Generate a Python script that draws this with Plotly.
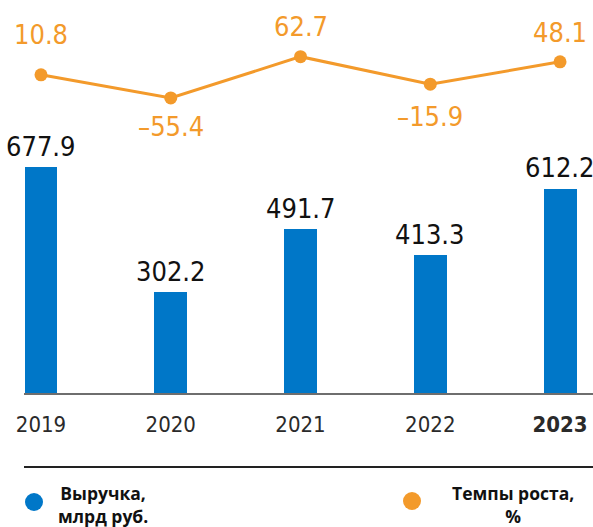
import plotly.graph_objects as go

years = ["2019", "2020", "2021", "2022", "2023"]
tick_labels = ["2019", "2020", "2021", "2022", "<b>2023</b>"]
revenue = [677.9, 302.2, 491.7, 413.3, 612.2]
growth = [10.8, -55.4, 62.7, -15.9, 48.1]
growth_labels = ["10.8", "\u201355.4", "62.7", "\u201315.9", "48.1"]
legend_names = ["Выручка,<br>млрд руб.", "Темпы роста,<br>%"]

BLUE = "#0077C8"
ORANGE = "#F39A2B"
FONT = "Liberation Sans Narrow, DejaVu Sans Condensed, Roboto, sans-serif"
LFONT = "Open Sans, DejaVu Sans, sans-serif"
W, H = 593, 527

def px(x):
    return x / W

def py(y):
    return 1 - y / H

# label offsets (px) for growth labels: positive = above
growth_offsets = [40, -29, 30, -32, 29]

fig = go.Figure()
fig.add_trace(go.Bar(x=years, y=revenue, marker=dict(color=BLUE, line=dict(width=0)),
                     width=0.254, yaxis="y", showlegend=False, hoverinfo="skip"))
fig.add_trace(go.Scatter(x=years, y=growth, mode="lines+markers", yaxis="y2",
                         line=dict(color=ORANGE, width=3),
                         marker=dict(color=ORANGE, size=13), showlegend=False,
                         hoverinfo="skip"))

annotations = []
for i, v in enumerate(revenue):
    annotations.append(dict(x=i, y=v, xref="x", yref="y", text=f"{v:.1f}",
                            showarrow=False, yanchor="middle", yshift=21,
                            font=dict(family=FONT, size=27, color="#111111")))
for i, (v, t, off) in enumerate(zip(growth, growth_labels, growth_offsets)):
    annotations.append(dict(x=i, y=v, xref="x", yref="y2", text=t,
                            showarrow=False, yanchor="middle", yshift=off,
                            font=dict(family=FONT, size=27, color=ORANGE)))

# legend texts
annotations.append(dict(x=px(103), y=py(504), xref="paper", yref="paper",
                        text="<b>" + legend_names[0] + "</b>", showarrow=False,
                        align="center", xanchor="center", yanchor="middle",
                        font=dict(family=LFONT, size=17.5, color="#111111")))
annotations.append(dict(x=px(513), y=py(504), xref="paper", yref="paper",
                        text="<b>" + legend_names[1] + "</b>", showarrow=False,
                        align="center", xanchor="center", yanchor="middle",
                        font=dict(family=LFONT, size=17.5, color="#111111")))

shapes = [
    dict(type="line", xref="paper", yref="paper", x0=px(24), x1=px(593),
         y0=py(467), y1=py(467), line=dict(color="#222222", width=2)),
    dict(type="circle", xref="paper", yref="paper", xsizemode="pixel", ysizemode="pixel",
         xanchor=px(34), yanchor=py(502), x0=-9, x1=9, y0=-9, y1=9,
         fillcolor=BLUE, line=dict(width=0)),
    dict(type="circle", xref="paper", yref="paper", xsizemode="pixel", ysizemode="pixel",
         xanchor=px(412), yanchor=py(501), x0=-9, x1=9, y0=-9, y1=9,
         fillcolor=ORANGE, line=dict(width=0)),
]

# axis geometry
base_px = 393
bar_top_max_px = 167
y_max = revenue[0] * base_px / (base_px - bar_top_max_px)
k2 = 0.3497  # px per % unit
zero2 = 78.6
y2_top = zero2 / k2
y2_bot = y2_top - base_px / k2

fig.update_layout(
    width=W, height=H,
    margin=dict(l=0, r=0, t=0, b=0),
    paper_bgcolor="white", plot_bgcolor="white",
    xaxis=dict(domain=[px(24), 1], type="category", range=[-0.131, 4.254],
               tickvals=years, ticktext=tick_labels, showgrid=False,
               showline=True, linecolor="#6e6e6e", linewidth=2,
               ticks="", ticklabelstandoff=11, automargin=False,
               tickfont=dict(family=FONT, size=22, color="#2a2a2a"), zeroline=False),
    yaxis=dict(domain=[1 - base_px / H, 1], range=[0, y_max], visible=False,
               showgrid=False, zeroline=False, automargin=False),
    yaxis2=dict(domain=[1 - base_px / H, 1], overlaying="y", range=[y2_bot, y2_top],
                visible=False, showgrid=False, zeroline=False, automargin=False),
    annotations=annotations,
    shapes=shapes,
    bargap=0,
)

fig.write_html("out.html", config={"displayModeBar": False},
               post_script="document.body.style.margin='0';")
